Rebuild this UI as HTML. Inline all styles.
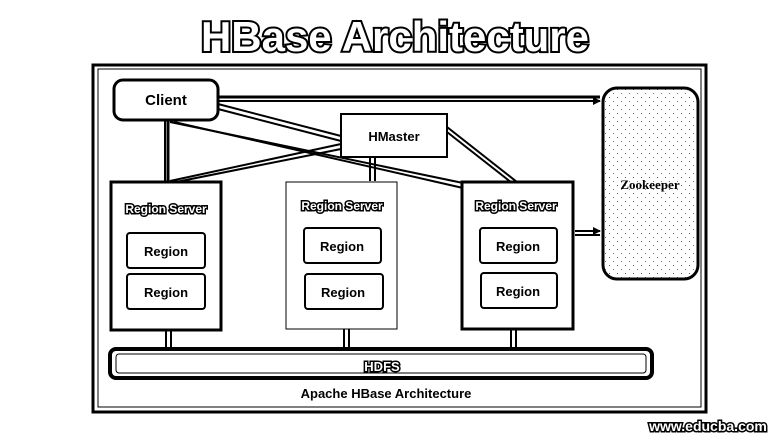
<!DOCTYPE html>
<html><head><meta charset="utf-8"><style>
html,body{margin:0;padding:0;background:#fff;}
svg{display:block;font-family:"Liberation Sans",sans-serif;}
</style></head><body>
<svg width="784" height="442" viewBox="0 0 784 442" xmlns="http://www.w3.org/2000/svg">
<defs>
<marker id="a" markerWidth="8" markerHeight="8" refX="7" refY="4" orient="auto" markerUnits="userSpaceOnUse"><path d="M0,0 L8,4 L0,8 z" fill="#000"/></marker>
<pattern id="dots" width="8" height="8" patternUnits="userSpaceOnUse"><rect x="1" y="1" width="1" height="1" fill="#555"/><rect x="5" y="5" width="1" height="1" fill="#777"/></pattern>
</defs>
<text x="395" y="51" text-anchor="middle" font-size="42" font-weight="bold" fill="#fff" stroke="#000" stroke-width="4" paint-order="stroke" textLength="388" lengthAdjust="spacingAndGlyphs">HBase Architecture</text>
<!-- outer frame -->
<rect x="93" y="65" width="613" height="347" fill="none" stroke="#000" stroke-width="3"/>
<rect x="98" y="69" width="603" height="338" fill="none" stroke="#000" stroke-width="1"/>
<!-- zookeeper -->
<rect x="603" y="88" width="95" height="191" rx="14" fill="url(#dots)" stroke="#000" stroke-width="3"/>
<text x="650" y="189" text-anchor="middle" font-size="13" font-weight="bold" font-family="Liberation Serif,serif">Zookeeper</text>
<!-- connectors -->
<g stroke="#000" fill="none">
<line x1="218" y1="97" x2="600" y2="97" stroke-width="3"/>
<line x1="218" y1="101" x2="600" y2="101" stroke-width="2" marker-end="url(#a)"/>
<line x1="218" y1="104" x2="341" y2="136" stroke-width="2"/>
<line x1="218" y1="109" x2="341" y2="141" stroke-width="2"/>
<line x1="168" y1="120" x2="168" y2="182" stroke-width="3"/>
<line x1="165" y1="120" x2="165" y2="182" stroke-width="2"/>
<line x1="170" y1="122" x2="463" y2="183" stroke-width="2"/>
<line x1="174" y1="122" x2="463" y2="188" stroke-width="2"/>
<line x1="341" y1="144" x2="170" y2="181" stroke-width="2"/>
<line x1="341" y1="149" x2="176" y2="182" stroke-width="2"/>
<line x1="370" y1="157" x2="370" y2="181" stroke-width="2"/>
<line x1="375" y1="157" x2="375" y2="181" stroke-width="2"/>
<line x1="447" y1="127" x2="517" y2="182" stroke-width="2"/>
<line x1="447" y1="132" x2="512" y2="183" stroke-width="2"/>
<line x1="575" y1="231" x2="600" y2="231" stroke-width="2" marker-end="url(#a)"/>
<line x1="575" y1="235" x2="600" y2="235" stroke-width="2"/>
<line x1="166" y1="330" x2="166" y2="348" stroke-width="2"/><line x1="171" y1="330" x2="171" y2="348" stroke-width="2"/>
<line x1="344" y1="329" x2="344" y2="348" stroke-width="2"/><line x1="349" y1="329" x2="349" y2="348" stroke-width="2"/>
<line x1="511" y1="329" x2="511" y2="348" stroke-width="2"/><line x1="516" y1="329" x2="516" y2="348" stroke-width="2"/>
</g>
<!-- client / hmaster -->
<rect x="114" y="80" width="104" height="40" rx="9" fill="#fff" stroke="#000" stroke-width="3"/>
<text x="166" y="105" text-anchor="middle" font-size="15" font-weight="bold">Client</text>
<rect x="341" y="114" width="106" height="43" fill="#fff" stroke="#000" stroke-width="2"/>
<text x="394" y="141" text-anchor="middle" font-size="13" font-weight="bold">HMaster</text>
<!-- region servers -->
<g>
<rect x="111" y="182" width="110" height="148" fill="#fff" stroke="#000" stroke-width="3"/>
<rect x="286" y="182" width="111" height="147" fill="#fff" stroke="#000" stroke-width="1"/>
<rect x="462" y="182" width="111" height="147" fill="#fff" stroke="#000" stroke-width="3"/>
</g>
<g font-size="12" font-weight="bold" text-anchor="middle" fill="#fff" stroke="#000" stroke-width="3" paint-order="stroke">
<text x="166" y="213">Region Server</text>
<text x="342" y="210">Region Server</text>
<text x="516" y="210">Region Server</text>
</g>
<g fill="#fff" stroke="#000" stroke-width="2">
<rect x="127" y="233" width="78" height="35" rx="3"/>
<rect x="127" y="274" width="78" height="35" rx="3"/>
<rect x="304" y="228" width="77" height="35" rx="3"/>
<rect x="305" y="274" width="78" height="35" rx="3"/>
<rect x="480" y="228" width="77" height="35" rx="3"/>
<rect x="481" y="273" width="76" height="35" rx="3"/>
</g>
<g font-size="13" font-weight="bold" text-anchor="middle">
<text x="166" y="256">Region</text>
<text x="166" y="297">Region</text>
<text x="342" y="251">Region</text>
<text x="343" y="297">Region</text>
<text x="518" y="251">Region</text>
<text x="518" y="296">Region</text>
</g>
<!-- HDFS -->
<rect x="110" y="349" width="542" height="29" rx="6" fill="#fff" stroke="#000" stroke-width="4"/>
<rect x="116" y="354" width="530" height="19" rx="3" fill="none" stroke="#000" stroke-width="1"/>
<text x="382" y="371" text-anchor="middle" font-size="13" font-weight="bold" fill="#fff" stroke="#000" stroke-width="3" paint-order="stroke">HDFS</text>
<text x="386" y="398" text-anchor="middle" font-size="13" font-weight="bold">Apache HBase Architecture</text>
<text x="708" y="431" text-anchor="middle" font-size="14" font-weight="bold" fill="#fff" stroke="#000" stroke-width="3" paint-order="stroke">www.educba.com</text>
</svg>
</body></html>
